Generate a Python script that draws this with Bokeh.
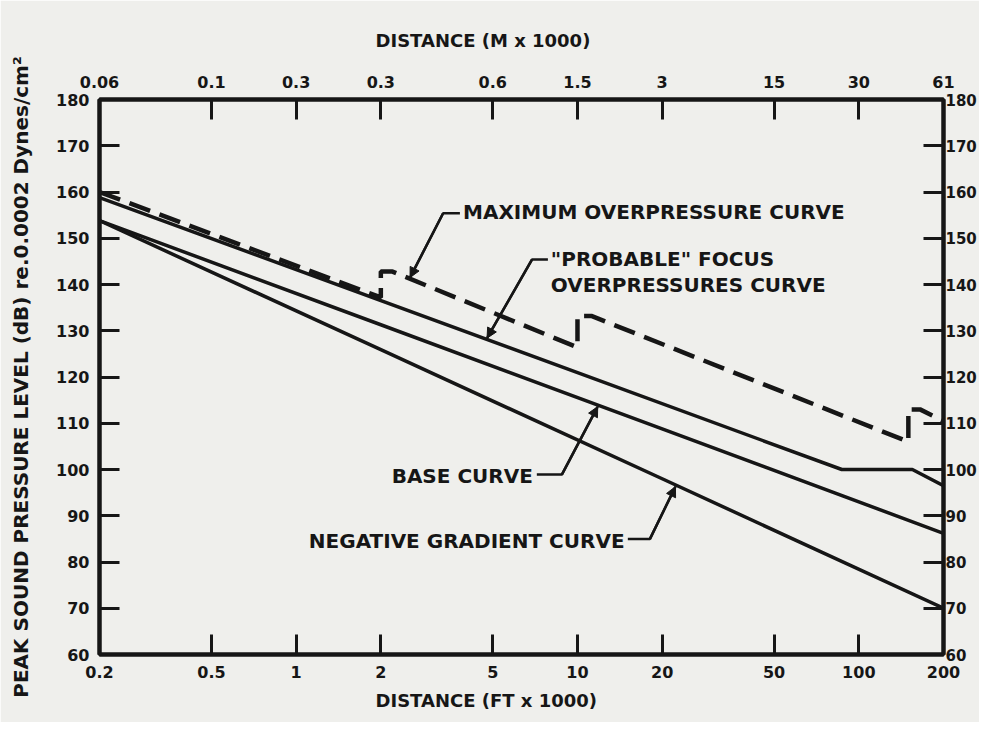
from bokeh.plotting import figure
from bokeh.models import (Range1d, LogAxis, LinearAxis, FixedTicker, Label, Arrow,
                          NormalHead, CustomJSTickFormatter, Title)
from bokeh.embed import file_html
from bokeh.resources import INLINE

INK = "#161616"
PAPER = "#efefec"
FONT = "DejaVu Sans"

# ---- data (distance in thousands of feet, level in dB) ----
ft_ticks = [0.2, 0.5, 1, 2, 5, 10, 20, 50, 100, 200]
ft_tick_labels = ["0.2", "0.5", "1", "2", "5", "10", "20", "50", "100", "200"]
m_tick_labels = ["0.06", "0.1", "0.3", "0.3", "0.6", "1.5", "3", "15", "30", "61"]
db_ticks = [60, 70, 80, 90, 100, 110, 120, 130, 140, 150, 160, 170, 180]

max_x = [0.2, 2.0, 2.0, 2.2, 10.0, 10.0, 11.2, 150.0, 150.0, 165.0, 200.0]
max_y = [160.0, 137.2, 142.8, 142.8, 126.4, 133.2, 133.2, 106.0, 113.0, 113.0, 110.5]
probable_x = [0.2, 87.0, 155.0, 200.0]
probable_y = [158.8, 100.0, 100.0, 96.5]
base_x = [0.2, 2.0, 20.0, 200.0]
base_y = [153.8, 131.3, 108.8, 86.2]
negative_x = [0.2, 2.0, 20.0, 200.0]
negative_y = [153.8, 125.9, 98.0, 70.0]

p = figure(width=979, height=722, x_axis_type="log",
           x_range=Range1d(0.2, 200), y_range=Range1d(60, 180),
           output_backend="svg", toolbar_location=None,
           min_border_left=99, min_border_right=35,
           min_border_top=99, min_border_bottom=68,
           background_fill_color=PAPER, border_fill_color=PAPER)
p.grid.visible = False
p.outline_line_color = INK
p.outline_line_width = 4


def fmt(labels):
    return CustomJSTickFormatter(args=dict(tv=ft_ticks, tl=labels), code="""
        for (let i = 0; i < tv.length; i++) {
            if (Math.abs(tv[i] - tick) < 1e-6 * tv[i]) { return tl[i]; }
        }
        return '';
    """)


def style(ax, standoff, size="16px"):
    ax.axis_line_width = 4
    ax.axis_line_color = INK
    ax.major_tick_in = 20
    ax.major_tick_out = 0
    ax.major_tick_line_width = 3
    ax.major_tick_line_color = INK
    ax.minor_tick_in = 0
    ax.minor_tick_out = 0
    ax.major_label_text_font = FONT
    ax.major_label_text_font_style = "bold"
    ax.major_label_text_font_size = size
    ax.major_label_text_color = INK
    ax.major_label_standoff = standoff


bottom = p.xaxis[0]
bottom.ticker = FixedTicker(ticks=ft_ticks)
bottom.formatter = fmt(ft_tick_labels)
style(bottom, 11)

top = LogAxis(ticker=FixedTicker(ticks=ft_ticks), formatter=fmt(m_tick_labels))
style(top, 12)
p.add_layout(top, "above")

left = p.yaxis[0]
left.ticker = FixedTicker(ticks=db_ticks)
style(left, 10)
left.axis_label = "PEAK SOUND PRESSURE LEVEL (dB) re.0.0002 Dynes/cm\u00b2"
left.axis_label_text_font = FONT
left.axis_label_text_font_style = "bold"
left.axis_label_text_font_size = "20px"
left.axis_label_text_color = INK
left.axis_label_standoff = 20

right = LinearAxis(ticker=FixedTicker(ticks=db_ticks))
style(right, 2, "15px")
p.add_layout(right, "right")

# ---- axis titles ----
p.add_layout(Title(text="DISTANCE (M x 1000)", align="left", offset=276, standoff=44,
                   text_font=FONT, text_font_style="bold", text_font_size="18px",
                   text_color=INK), "above")
p.add_layout(Title(text="DISTANCE (FT x 1000)", align="left", offset=276, standoff=14,
                   text_font=FONT, text_font_style="bold", text_font_size="18px",
                   text_color=INK), "below")

# ---- curves ----
p.line(max_x, max_y, line_width=4.5, line_color=INK, line_dash="22 10")
p.line(probable_x, probable_y, line_width=3.5, line_color=INK)
p.line(base_x, base_y, line_width=3.5, line_color=INK)
p.line(negative_x, negative_y, line_width=3.5, line_color=INK)

# ---- callouts ----
callouts = [
    dict(lines=[("MAXIMUM OVERPRESSURE CURVE", 155.6)], tx=3.92, align="left",
         px=[3.82, 3.33, 2.54], py=[155.4, 155.4, 141.5]),
    dict(lines=[("\"PROBABLE\" FOCUS", 145.6), ("OVERPRESSURES CURVE", 140.0)], tx=8.04, align="left",
         px=[7.85, 6.89, 4.77], py=[145.4, 145.4, 128.4]),
    dict(lines=[("BASE CURVE", 98.5)], tx=6.94, align="right",
         px=[7.17, 8.80, 11.8], py=[98.9, 98.9, 113.6]),
    dict(lines=[("NEGATIVE GRADIENT CURVE", 84.6)], tx=14.7, align="right",
         px=[15.1, 18.1, 22.3], py=[85.0, 85.0, 96.3]),
]
for c in callouts:
    for txt, ty in c["lines"]:
        p.add_layout(Label(x=c["tx"], y=ty, text=txt, text_align=c["align"],
                           text_baseline="middle", text_font=FONT, text_font_style="bold",
                           text_font_size="20px", text_color=INK))
    p.line(c["px"], c["py"], line_width=2.5, line_color=INK)
    p.add_layout(Arrow(x_start=c["px"][1], y_start=c["py"][1], x_end=c["px"][2], y_end=c["py"][2],
                       line_width=2.5, line_color=INK,
                       end=NormalHead(size=10, fill_color=INK, line_color=INK, line_width=1)))

open("out.html", "w").write(file_html(p, INLINE))
